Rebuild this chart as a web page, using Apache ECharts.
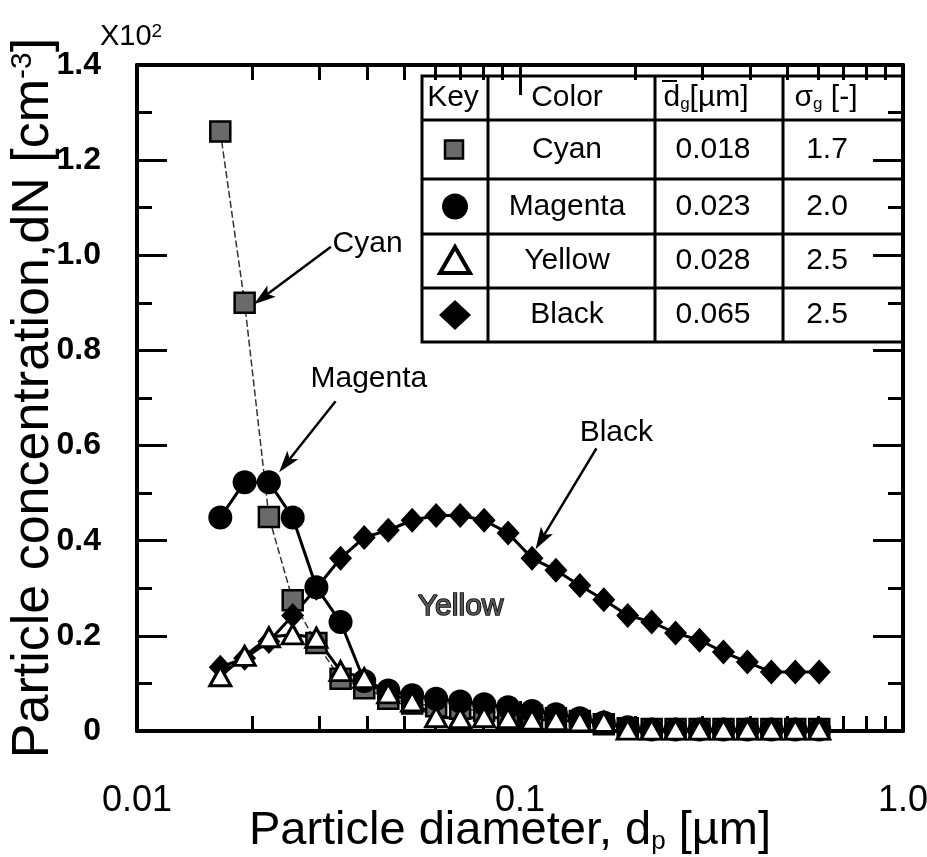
<!DOCTYPE html>
<html>
<head>
<meta charset="utf-8">
<script src="https://cdn.jsdelivr.net/npm/echarts@6/dist/echarts.min.js"></script>
<style>
  html, body { margin: 0; padding: 0; background: #fff; }
  #chart { width: 927px; height: 857px; }
</style>
</head>
<body>
<div id="chart"></div>
<script>
// Mobility diameter channels [µm]
const diameters = [0.0165, 0.0191, 0.0221, 0.0255, 0.0294, 0.0340, 0.0392, 0.0453, 0.0523,
  0.0604, 0.0698, 0.0806, 0.0931, 0.1075, 0.1241, 0.1433, 0.1655, 0.1911, 0.2207, 0.2548,
  0.2943, 0.3398, 0.3924, 0.4532, 0.5233, 0.6043];

// Number concentration dN [x10^2 cm^-3] for each toner colour
const cyan = [1.26, 0.90, 0.45, 0.275, 0.185, 0.11, 0.09, 0.068, 0.058, 0.052, 0.047, 0.042,
  0.037, 0.032, 0.027, 0.021, 0.014, 0.006, 0.004, 0.004, 0.004, 0.004, 0.004, 0.004, 0.004, 0.004];
const magenta = [0.449, 0.523, 0.523, 0.449, 0.302, 0.229, 0.105, 0.085, 0.075, 0.068, 0.062,
  0.056, 0.05, 0.042, 0.035, 0.027, 0.018, 0.008, 0.003, 0.003, 0.003, 0.003, 0.003, 0.003, 0.003, 0.003];
const yellow = [0.115, 0.158, 0.197, 0.203, 0.196, 0.126, 0.111, 0.079, 0.062, 0.029, 0.027,
  0.029, 0.027, 0.024, 0.023, 0.02, 0.019, 0.003, 0.003, 0.003, 0.003, 0.003, 0.003, 0.003, 0.003, 0.003];
const black = [0.134, 0.153, 0.188, 0.243, 0.30, 0.363, 0.407, 0.422, 0.443, 0.453, 0.453,
  0.443, 0.416, 0.363, 0.338, 0.306, 0.276, 0.243, 0.229, 0.206, 0.191, 0.166, 0.145, 0.124, 0.124, 0.124];

// Axis settings
const yMin = 0, yMax = 1.4, yStep = 0.2;
const xMin = 0.01, xMax = 1;
const xMinorTicks = [0.02, 0.03, 0.04, 0.05, 0.06, 0.07, 0.08, 0.09,
  0.2, 0.3, 0.4, 0.5, 0.6, 0.7, 0.8, 0.9];

// Key table contents
const tableHeader = ['Key', 'Color', 'dg[µm]', 'σg [-]'];
const tableColors = ['Cyan', 'Magenta', 'Yellow', 'Black'];
const tableDg = ['0.018', '0.023', '0.028', '0.065'];
const tableSigma = ['1.7', '2.0', '2.5', '2.5'];

// Curve call-outs, in data coordinates [diameter, dN]
const calloutNames = ['Cyan', 'Magenta', 'Black'];
const calloutText = [[0.0400, 1.024], [0.0403, 0.741], [0.1785, 0.626]];
const calloutFrom = [[0.0321, 1.018], [0.0330, 0.693], [0.1583, 0.594]];
const calloutTo = [[0.0202, 0.897], [0.0235, 0.544], [0.1098, 0.382]];
const yellowLabelAt = [0.070, 0.262];

const FONT = "'Liberation Sans', Arial, Helvetica, sans-serif";
const chart = echarts.init(document.getElementById('chart'), null, { renderer: 'canvas' });

const pairs = arr => diameters.map((d, i) => [d, arr[i]]);
const axisLine = { show: true, onZero: false, lineStyle: { color: '#000', width: 4 } };
const tickStyle = { color: '#000', width: 3 };

function yAxisDef(pos, showLabel) {
  return {
    type: 'value', position: pos, min: yMin, max: yMax, interval: yStep,
    axisLine: axisLine,
    axisTick: { show: true, inside: true, length: 30, lineStyle: tickStyle },
    minorTick: { show: true, splitNumber: 2, length: 15, lineStyle: tickStyle },
    splitLine: { show: false }, minorSplitLine: { show: false },
    axisLabel: {
      show: showLabel, margin: 36, fontSize: 32, fontWeight: 'bold', color: '#000', fontFamily: FONT,
      formatter: v => (v === 0 ? '0' : v.toFixed(1))
    }
  };
}
function xLogAxis(pos, showLabel) {
  return {
    type: 'log', logBase: 10, position: pos, min: xMin, max: xMax,
    axisLine: axisLine,
    axisTick: { show: true, inside: true, length: 30, lineStyle: tickStyle },
    splitLine: { show: false },
    axisLabel: {
      show: showLabel, margin: 52, fontSize: 36, color: '#000', fontFamily: FONT,
      formatter: v => (v >= 1 ? '1.0' : String(+v.toPrecision(1)))
    }
  };
}
function xMinorAxis(pos) {
  // log10 positions of the 2..9 sub-decade ticks
  return {
    type: 'value', position: pos, min: Math.log10(xMin), max: Math.log10(xMax),
    axisLine: { show: false, onZero: false },
    axisTick: { show: true, inside: true, length: 15, lineStyle: tickStyle,
      customValues: xMinorTicks.map(v => Math.log10(v)) },
    axisLabel: { show: false }, splitLine: { show: false }
  };
}

const xBottom = xLogAxis('bottom', true);
xBottom.name = 'Particle diameter, d{sub|p} [µm]';
xBottom.nameLocation = 'middle';
xBottom.nameGap = 77;
xBottom.nameMoveOverlap = false;
xBottom.nameTextStyle = { fontSize: 47, color: '#000', fontFamily: FONT, padding: [0, 20, 0, 0],
  rich: { sub: { fontSize: 26, verticalAlign: 'bottom', fontFamily: FONT, color: '#000' } } };

const yLeft = yAxisDef('left', true);
yLeft.name = 'Particle concentration,dN [cm{sup|-3}]';
yLeft.nameLocation = 'middle';
yLeft.nameGap = 77;
yLeft.nameMoveOverlap = false;
yLeft.nameTextStyle = { fontSize: 52, color: '#000', fontFamily: FONT,
  rich: { sup: { fontSize: 30, verticalAlign: 'top', fontFamily: FONT, color: '#000' } } };

const lineSeries = (name, arr, extra) => Object.assign({
  name, type: 'line', xAxisIndex: 0, yAxisIndex: 0, data: pairs(arr),
  symbolSize: 24, showSymbol: true, animation: false, silent: true
}, extra);

chart.setOption({
  animation: false,
  backgroundColor: '#fff',
  grid: { left: 137, right: 24, top: 65, bottom: 126, containLabel: false, outerBoundsMode: 'none' },
  xAxis: [xBottom, xMinorAxis('bottom'), xLogAxis('top', false), xMinorAxis('top')],
  yAxis: [yLeft, yAxisDef('right', false)],
  series: [
    lineSeries('Cyan', cyan, {
      symbol: 'rect', symbolSize: 20,
      itemStyle: { color: '#6a6a6a', borderColor: '#000', borderWidth: 2.5 },
      lineStyle: { color: '#333', width: 1.5, type: [7, 3] }
    }),
    lineSeries('Black', black, {
      symbol: 'diamond', symbolSize: [23, 25],
      itemStyle: { color: '#000' },
      lineStyle: { color: '#000', width: 3 }
    }),
    lineSeries('Magenta', magenta, {
      symbol: 'circle', symbolSize: 24,
      itemStyle: { color: '#000' },
      lineStyle: { color: '#000', width: 3 }
    }),
    lineSeries('Yellow', yellow, {
      symbol: 'triangle', symbolSize: [21, 19],
      itemStyle: { color: '#fff', borderColor: '#000', borderWidth: 3 },
      lineStyle: { color: '#000', width: 3 }
    })
  ]
});

// ---- overlay: multiplier, call-outs and key table ----
const px = p => chart.convertToPixel({ xAxisIndex: 0, yAxisIndex: 0 }, p);
const g = [];

g.push({ type: 'text', left: 100, top: 22, style: {
  text: 'X10{sup|2}', font: '29px ' + FONT, fill: '#000',
  rich: { sup: { fontSize: 19, verticalAlign: 'top', fontFamily: FONT, fill: '#000' } } } });

function arrow(from, to) {
  const a = px(from), b = px(to);
  const dx = b[0] - a[0], dy = b[1] - a[1], len = Math.hypot(dx, dy);
  const ux = dx / len, uy = dy / len, nx = -uy, ny = ux;
  const L = 22, W = 7, notch = 5;
  const base = [b[0] - ux * L, b[1] - uy * L];
  const inner = [b[0] - ux * (L - notch), b[1] - uy * (L - notch)];
  g.push({ type: 'line', silent: true,
    shape: { x1: a[0], y1: a[1], x2: inner[0], y2: inner[1] },
    style: { stroke: '#000', lineWidth: 2.5 } });
  g.push({ type: 'polygon', silent: true,
    shape: { points: [b, [base[0] + nx * W, base[1] + ny * W], inner, [base[0] - nx * W, base[1] - ny * W]] },
    style: { fill: '#000' } });
}
calloutNames.forEach((name, i) => {
  const t = px(calloutText[i]);
  g.push({ type: 'text', x: t[0], y: t[1], silent: true,
    style: { text: name, font: '30px ' + FONT, fill: '#000', align: 'center', verticalAlign: 'middle' } });
  arrow(calloutFrom[i], calloutTo[i]);
});
const yl = px(yellowLabelAt);
g.push({ type: 'text', x: yl[0], y: yl[1], silent: true,
  style: { text: 'Yellow', font: '30px ' + FONT, fill: '#555', stroke: '#000', lineWidth: 1.5,
    align: 'center', verticalAlign: 'middle' } });

// Key table
const colX = [422, 488, 655, 783, 903];
const rowY = [76, 120, 179, 234, 288, 342];
g.push({ type: 'rect', shape: { x: colX[0], y: rowY[0], width: colX[4] - colX[0], height: rowY[5] - rowY[0] },
  style: { fill: '#fff', stroke: '#000', lineWidth: 3 } });
colX.slice(1, 4).forEach(x => g.push({ type: 'line', shape: { x1: x, y1: rowY[0], x2: x, y2: rowY[5] },
  style: { stroke: '#000', lineWidth: 3 } }));
rowY.slice(1, 5).forEach(y => g.push({ type: 'line', shape: { x1: colX[0], y1: y, x2: colX[4], y2: y },
  style: { stroke: '#000', lineWidth: 3 } }));

const cellText = (text, cx, cy, rich) => g.push({ type: 'text', x: cx, y: cy, silent: true,
  style: { text, font: '30px ' + FONT, fill: '#000', align: 'center', verticalAlign: 'middle', rich } });
const subRich = { s: { fontSize: 17, verticalAlign: 'bottom', fontFamily: FONT, fill: '#000' } };
const hy = (rowY[0] + rowY[1]) / 2;
cellText(tableHeader[0], 453, hy);
cellText(tableHeader[1], 567, hy);
cellText('d{s|g}[µm]', 706, hy, subRich);
g.push({ type: 'line', shape: { x1: 662, y1: hy - 17, x2: 677, y2: hy - 17 }, style: { stroke: '#000', lineWidth: 2 } });
cellText('σ{s|g} [-]', 826, hy, subRich);

tableColors.forEach((c, i) => {
  const cy = (rowY[i + 1] + rowY[i + 2]) / 2;
  cellText(c, 567, cy);
  cellText(tableDg[i], 713, cy);
  cellText(tableSigma[i], 827, cy);
});
const keyX = 455;
const ky = i => (rowY[i + 1] + rowY[i + 2]) / 2;
g.push({ type: 'rect', shape: { x: keyX - 10, y: ky(0) - 9, width: 18, height: 18 },
  style: { fill: '#6a6a6a', stroke: '#000', lineWidth: 2.5 } });
g.push({ type: 'circle', shape: { cx: keyX, cy: ky(1), r: 13 }, style: { fill: '#000' } });
g.push({ type: 'polygon', shape: { points: [[keyX, ky(2) - 14], [keyX + 15, ky(2) + 12], [keyX - 15, ky(2) + 12]] },
  style: { fill: '#fff', stroke: '#000', lineWidth: 4 } });
g.push({ type: 'polygon', shape: { points: [[keyX, ky(3) - 15], [keyX + 16, ky(3)], [keyX, ky(3) + 15], [keyX - 16, ky(3)]] },
  style: { fill: '#000' } });

chart.setOption({ graphic: { elements: g } });
</script>
</body>
</html>
